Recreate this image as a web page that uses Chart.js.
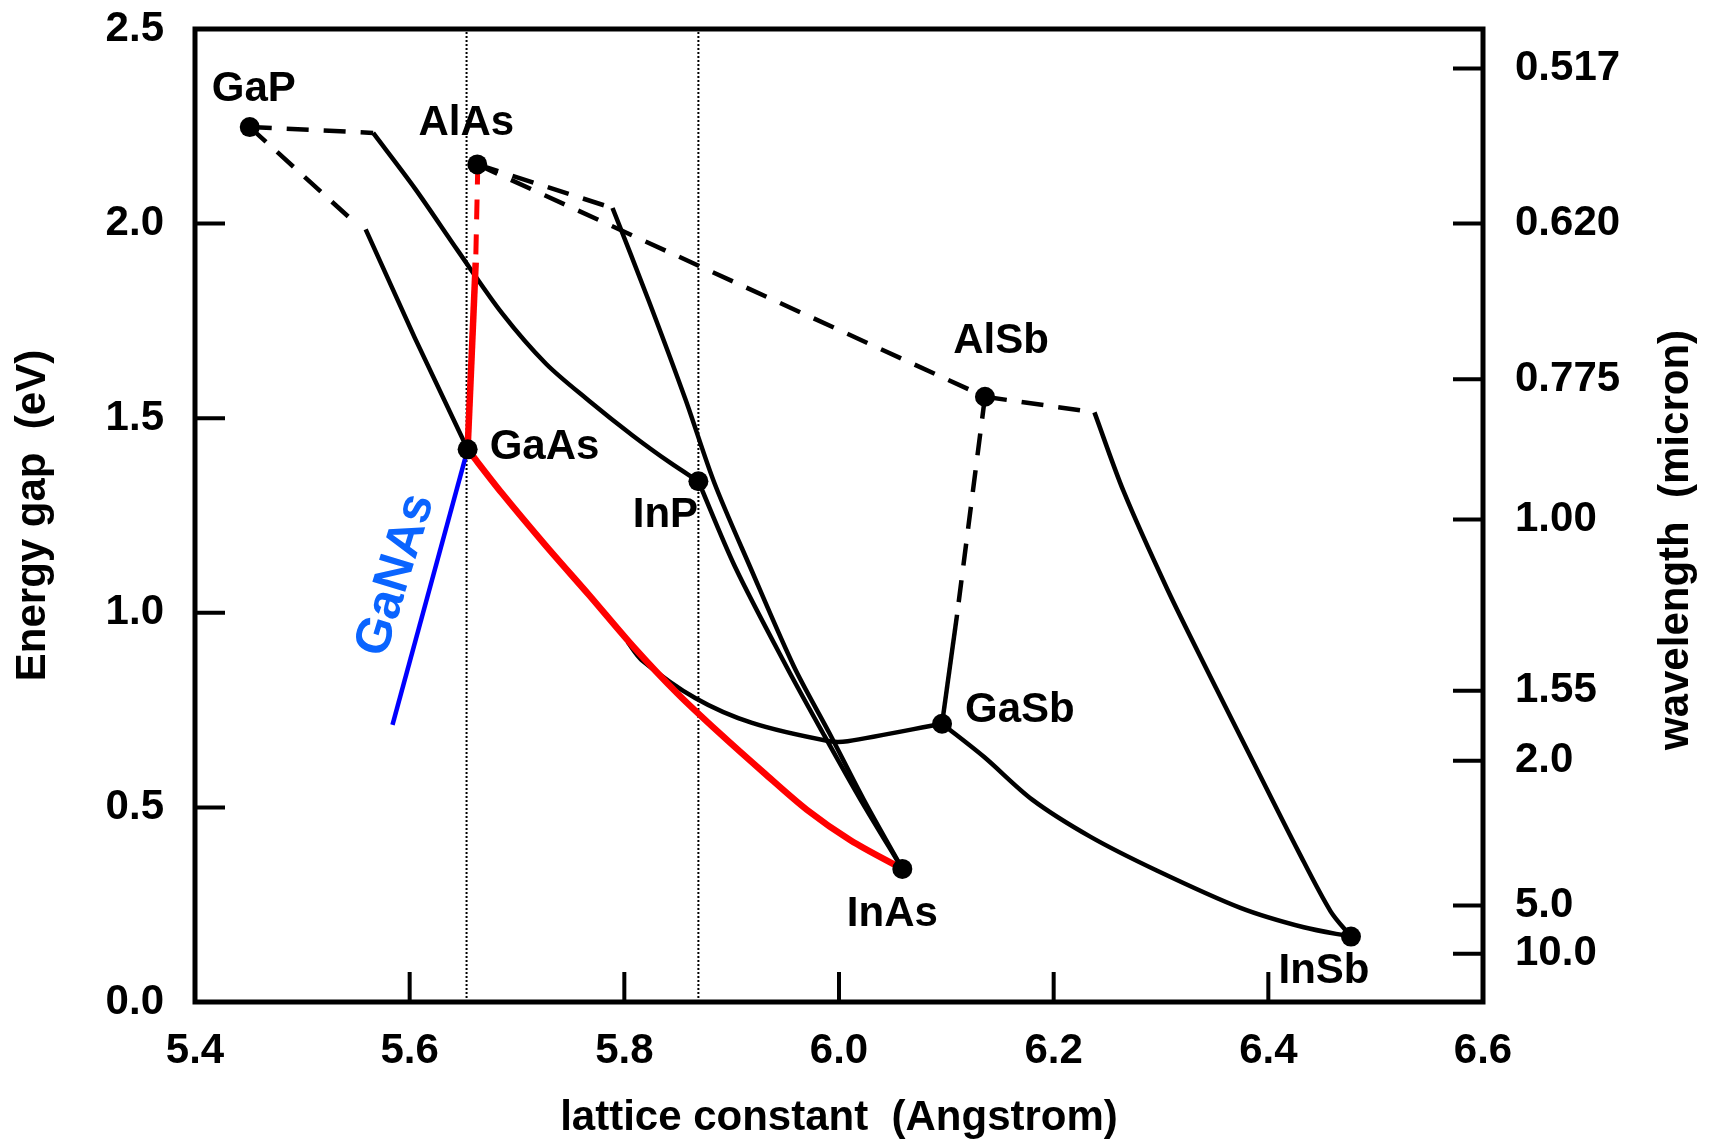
<!DOCTYPE html>
<html>
<head>
<meta charset="utf-8">
<script src="https://cdn.jsdelivr.net/npm/chart.js@4.4.1/dist/chart.umd.min.js"></script>
<style>
  html, body { margin: 0; padding: 0; background: #fff; }
  #wrap { width: 1712px; height: 1141px; }
</style>
</head>
<body>
<div id="wrap"><canvas id="gapChart" width="1712" height="1141"></canvas></div>
<script>
// Binary compounds: lattice constant (A) and energy gap (eV)
const compoundNames = ['GaP', 'AlAs', 'AlSb', 'GaAs', 'InP', 'GaSb', 'InAs', 'InSb'];
const compoundA = [5.451, 5.663, 6.136, 5.654, 5.869, 6.096, 6.059, 6.477];
const compoundEg = [2.248, 2.152, 1.555, 1.420, 1.338, 0.715, 0.342, 0.168];

// Ternary lines (x = lattice constant, y = gap)
const gapToGaInP_x = [5.451, 5.566];
const gapToGaInP_y = [2.248, 2.233];
const gaInP_x = [5.566, 5.605, 5.645, 5.686, 5.727, 5.767, 5.808, 5.843, 5.869];
const gaInP_y = [2.233, 2.090, 1.930, 1.770, 1.640, 1.545, 1.455, 1.385, 1.338];

const gapToGaAsP_x = [5.451, 5.546];
const gapToGaAsP_y = [2.248, 2.010];
const gaAsP_x = [5.559, 5.605, 5.654];
const gaAsP_y = [1.985, 1.705, 1.420];

const alasToAlInAs_x = [5.663, 5.789];
const alasToAlInAs_y = [2.152, 2.040];
const alInAs_x = [5.789, 5.823, 5.857, 5.884, 5.917, 5.958, 5.991, 6.023, 6.059];
const alInAs_y = [2.040, 1.800, 1.548, 1.333, 1.119, 0.862, 0.691, 0.520, 0.342];

const inAsP_x = [5.869, 5.903, 5.951, 5.985, 6.020, 6.059];
const inAsP_y = [1.338, 1.119, 0.862, 0.691, 0.520, 0.342];

const alAsSb_x = [5.663, 6.136];
const alAsSb_y = [2.152, 1.555];

const alsbToAlInSb_x = [6.136, 6.238];
const alsbToAlInSb_y = [1.555, 1.515];
const alInSb_x = [6.238, 6.265, 6.306, 6.346, 6.387, 6.428, 6.458, 6.477];
const alInSb_y = [1.515, 1.313, 1.060, 0.836, 0.611, 0.387, 0.233, 0.168];

const alsbToAlGaSb_x = [6.136, 6.110];
const alsbToAlGaSb_y = [1.555, 0.995];
const alGaSb_x = [6.110, 6.096];
const alGaSb_y = [0.995, 0.715];

const gaAsSb_x = [5.803, 5.816, 5.866, 5.919, 5.991, 6.008, 6.096];
const gaAsSb_y = [0.925, 0.879, 0.781, 0.717, 0.670, 0.670, 0.715];

const gaInSb_x = [6.096, 6.135, 6.180, 6.234, 6.296, 6.374, 6.433, 6.477];
const gaInSb_y = [0.715, 0.630, 0.520, 0.425, 0.338, 0.242, 0.192, 0.168];

// AlGaAs and InGaAs (red)
const alGaAsDash_x = [5.6635, 5.6615];
const alGaAsDash_y = [2.152, 1.900];
const alGaAs_x = [5.6615, 5.654];
const alGaAs_y = [1.900, 1.420];
const inGaAs_x = [5.654, 5.686, 5.727, 5.767, 5.808, 5.849, 5.889, 5.930, 5.970, 6.011, 6.059];
const inGaAs_y = [1.420, 1.307, 1.172, 1.046, 0.914, 0.794, 0.690, 0.589, 0.494, 0.415, 0.342];

// GaNAs (blue)
const gaNAs_x = [5.654, 5.584];
const gaNAs_y = [1.420, 0.712];

// dotted guide lines at GaAs and InP lattice constants
const guideA = [5.653, 5.869];
const guideEg = [0, 2.5];

// right axis: wavelength ticks (micron)
const wavelengthTicks = [0.517, 0.620, 0.775, 1.00, 1.55, 2.0, 5.0, 10.0];
const wavelengthLabels = ['0.517', '0.620', '0.775', '1.00', '1.55', '2.0', '5.0', '10.0'];

const FONT = '"Liberation Sans", Arial, Helvetica, sans-serif';

// label placement around each dot (pixels)
const labelPlace = {
    GaP: [4, -38, 'center'],
    AlAs: [-11, -41, 'center'],
    AlSb: [16, -55, 'center'],
    GaAs: [22, -2, 'left'],
    InP: [-33, 34, 'center'],
    GaSb: [23, -13, 'left'],
    InAs: [-10, 46, 'center'],
    InSb: [-27, 35, 'center']
};

function pts(xs, ys) {
    return xs.map((x, i) => ({ x: x, y: ys[i] }));
}

function line(xs, ys, extra) {
    return Object.assign({
        data: pts(xs, ys),
        showLine: true,
        pointRadius: 0,
        borderColor: '#000',
        borderWidth: 4.5,
        borderJoinStyle: 'round',
        tension: 0,
        fill: false,
        order: 3
    }, extra || {});
}

const dash = [22, 15];

const datasets = [
    {
        data: pts(compoundA, compoundEg),
        pointRadius: 10,
        pointBackgroundColor: '#000',
        pointBorderWidth: 0,
        showLine: false,
        order: 0
    },
    line(alGaAsDash_x, alGaAsDash_y, { borderColor: '#ff0000', borderWidth: 5, borderDash: [20, 15], order: 1 }),
    line(alGaAs_x, alGaAs_y, { borderColor: '#ff0000', borderWidth: 6.5, order: 1 }),
    line(inGaAs_x, inGaAs_y, { borderColor: '#ff0000', borderWidth: 6.5, tension: 0.3, order: 1 }),
    line(gaNAs_x, gaNAs_y, { borderColor: '#0000ff', borderWidth: 4.5, order: 2 }),
    line(gapToGaInP_x, gapToGaInP_y, { borderDash: dash }),
    line(gaInP_x, gaInP_y, { tension: 0.3 }),
    line(gapToGaAsP_x, gapToGaAsP_y, { borderDash: dash }),
    line(gaAsP_x, gaAsP_y),
    line(alasToAlInAs_x, alasToAlInAs_y, { borderDash: dash }),
    line(alInAs_x, alInAs_y, { tension: 0.3 }),
    line(inAsP_x, inAsP_y, { tension: 0.3 }),
    line(alAsSb_x, alAsSb_y, { borderDash: dash }),
    line(alsbToAlInSb_x, alsbToAlInSb_y, { borderDash: dash }),
    line(alInSb_x, alInSb_y, { tension: 0.3 }),
    line(alsbToAlGaSb_x, alsbToAlGaSb_y, { borderDash: dash }),
    line(alGaSb_x, alGaSb_y),
    line(gaAsSb_x, gaAsSb_y, { tension: 0.3 }),
    line(gaInSb_x, gaInSb_y, { tension: 0.3 }),
    line([guideA[0], guideA[0]], guideEg, { borderWidth: 2, borderDash: [2, 2], order: 4 }),
    line([guideA[1], guideA[1]], guideEg, { borderWidth: 2, borderDash: [2, 2], order: 4 })
];

// frame, inward tick marks, labels
const decorations = {
    id: 'decorations',
    afterDraw(chart) {
        const { ctx, chartArea: a, scales } = chart;
        const tickLen = 30;
        ctx.save();
        ctx.strokeStyle = '#000';
        ctx.lineWidth = 4;
        ctx.beginPath();
        scales.x.ticks.forEach(t => {
            if (t.value <= scales.x.min + 1e-6 || t.value >= scales.x.max - 1e-6) return;
            const px = scales.x.getPixelForValue(t.value);
            ctx.moveTo(px, a.bottom);
            ctx.lineTo(px, a.bottom - tickLen);
        });
        scales.y.ticks.forEach(t => {
            if (t.value <= scales.y.min + 1e-6 || t.value >= scales.y.max - 1e-6) return;
            const py = scales.y.getPixelForValue(t.value);
            ctx.moveTo(a.left, py);
            ctx.lineTo(a.left + tickLen, py);
        });
        scales.y2.ticks.forEach(t => {
            const py = scales.y2.getPixelForValue(t.value);
            ctx.moveTo(a.right, py);
            ctx.lineTo(a.right - tickLen, py);
        });
        ctx.stroke();
        ctx.lineWidth = 5;
        ctx.strokeRect(a.left, a.top, a.right - a.left, a.bottom - a.top);

        // compound names
        ctx.fillStyle = '#000';
        ctx.font = 'bold 42px ' + FONT;
        ctx.textBaseline = 'middle';
        compoundNames.forEach((name, i) => {
            const p = labelPlace[name];
            const px = scales.x.getPixelForValue(compoundA[i]);
            const py = scales.y.getPixelForValue(compoundEg[i]);
            ctx.textAlign = p[2];
            ctx.fillText(name, px + p[0], py + p[1]);
        });

        // GaNAs label along the blue line
        const mx = scales.x.getPixelForValue((gaNAs_x[0] + gaNAs_x[1]) / 2);
        const my = scales.y.getPixelForValue((gaNAs_y[0] + gaNAs_y[1]) / 2);
        ctx.save();
        ctx.translate(mx - 34, my - 12);
        ctx.rotate(-73 * Math.PI / 180);
        ctx.fillStyle = '#0a64ff';
        ctx.font = 'bold 50px ' + FONT;
        ctx.textAlign = 'center';
        ctx.fillText('GaNAs', 0, 0);
        ctx.restore();

        // right axis title, reading bottom to top
        ctx.save();
        ctx.translate(1676, 540);
        ctx.rotate(-Math.PI / 2);
        ctx.font = 'bold 42px ' + FONT;
        ctx.textAlign = 'center';
        ctx.fillText('wavelength  (micron)', 0, 0);
        ctx.restore();
        ctx.restore();
    }
};

const tickFont = { family: FONT, size: 42, weight: 'bold' };
const titleFont = { family: FONT, size: 42, weight: 'bold' };

new Chart(document.getElementById('gapChart').getContext('2d'), {
    type: 'scatter',
    data: { datasets: datasets },
    options: {
        responsive: false,
        devicePixelRatio: 1,
        animation: false,
        events: [],
        layout: { padding: { top: 29, left: 0, right: 0, bottom: 0 } },
        plugins: { legend: { display: false }, tooltip: { enabled: false } },
        scales: {
            x: {
                type: 'linear',
                position: 'bottom',
                min: 5.4,
                max: 6.6,
                grid: { display: false, drawTicks: false },
                border: { display: false },
                ticks: {
                    stepSize: 0.2,
                    padding: 24,
                    color: '#000',
                    font: tickFont,
                    maxRotation: 0,
                    callback: v => v.toFixed(1)
                },
                title: {
                    display: true,
                    text: 'lattice constant  (Angstrom)',
                    color: '#000',
                    font: titleFont,
                    padding: { top: 0, bottom: -3 }
                },
                afterFit: s => { s.height = 139; s.paddingLeft = 0; s.paddingRight = 0; }
            },
            y: {
                type: 'linear',
                position: 'left',
                min: 0,
                max: 2.5,
                grid: { display: false, drawTicks: false },
                border: { display: false },
                ticks: {
                    stepSize: 0.5,
                    padding: 31,
                    color: '#000',
                    font: tickFont,
                    callback: v => v.toFixed(1)
                },
                title: {
                    display: true,
                    text: 'Energy gap  (eV)',
                    color: '#000',
                    font: titleFont,
                    padding: { top: 8, bottom: 0 }
                },
                afterFit: s => { s.width = 195; s.paddingTop = 0; s.paddingBottom = 0; }
            },
            y2: {
                type: 'linear',
                position: 'right',
                min: 0,
                max: 2.5,
                grid: { display: false, drawTicks: false },
                border: { display: false },
                afterBuildTicks: s => {
                    s.ticks = wavelengthTicks.map(w => ({ value: 1.24 / w }));
                },
                ticks: {
                    autoSkip: false,
                    padding: 32,
                    color: '#000',
                    font: tickFont,
                    callback: (v, i) => wavelengthLabels[i]
                },
                afterFit: s => { s.width = 229; s.paddingTop = 0; s.paddingBottom = 0; }
            }
        }
    },
    plugins: [decorations]
});
</script>
</body>
</html>
